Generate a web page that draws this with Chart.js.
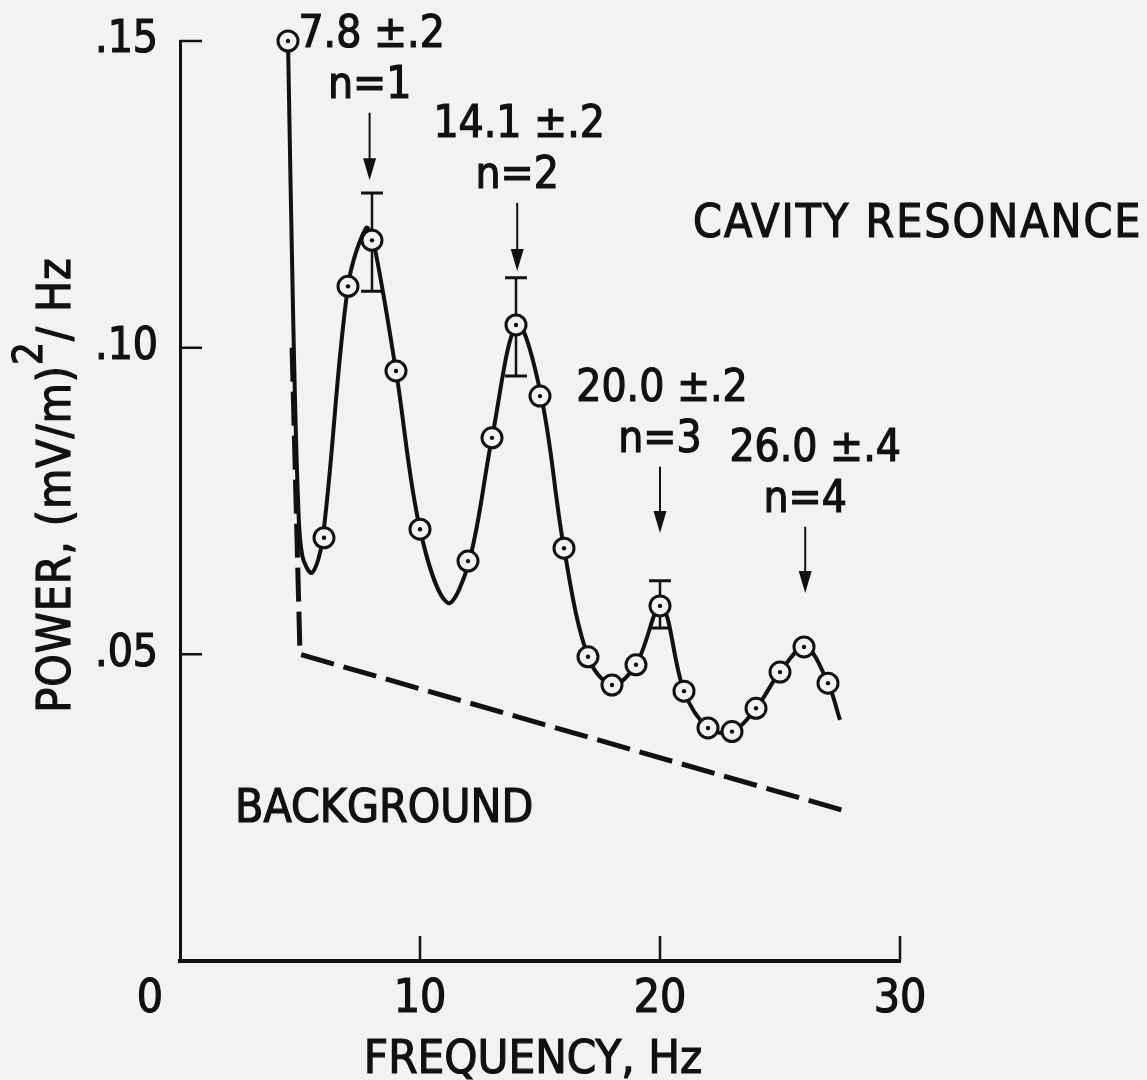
<!DOCTYPE html>
<html>
<head>
<meta charset="utf-8">
<script src="https://cdn.jsdelivr.net/npm/chart.js@4.4.1/dist/chart.umd.min.js"></script>
<style>
  html, body { margin: 0; padding: 0; background: #f2f2f2; }
  canvas { display: block; }
</style>
</head>
<body>
<canvas id="powerChart" width="1147" height="1080"></canvas>
<script>
/**
 * Power spectrum with cavity resonances (Schumann modes) over background.
 */

const FONT = '"DejaVu Sans Condensed", "DejaVu Sans", sans-serif';
const INK = "#111111";
const PAPER = "#f2f2f2";

// measured points (circles)
const frequency = [4.5, 6, 7, 8, 9, 10, 12, 13, 14, 15, 16, 17, 18, 19, 20, 21, 22, 23, 24, 25, 26, 27];
const power = [0.150, 0.069, 0.110, 0.1175, 0.0962, 0.0704, 0.0652, 0.0853, 0.1037, 0.0921, 0.0673, 0.0496,
  0.0450, 0.0483, 0.0579, 0.0440, 0.0380, 0.0374, 0.0412, 0.0471, 0.0512, 0.0453];

// hand-drawn smooth curve through the points
const curveFreq = [4.5, 4.72, 4.92, 5.1, 5.5, 5.95, 7.0, 7.75, 8.05, 9.0, 10.0, 11.15, 12.05, 13.0, 14.05,
  15.05, 16.0, 17.0, 18.0, 19.0, 20.05, 21.0, 22.0, 23.0, 24.0, 25.0, 26.05, 27.0, 27.5];
const curvePower = [0.150, 0.104, 0.075, 0.066, 0.0633, 0.069, 0.110, 0.1195, 0.1175, 0.0962, 0.0704, 0.0584,
  0.0652, 0.0853, 0.1037, 0.0921, 0.0673, 0.0496, 0.0450, 0.0483, 0.0579, 0.0440, 0.0380, 0.0374, 0.0412,
  0.0471, 0.0512, 0.0453, 0.0393];

// dashed background estimate
const backgroundFreq = [4.67, 5.0, 27.6];
const backgroundPower = [0.100, 0.050, 0.0246];

// error bars
const errorFreq = [8, 14, 20];
const errorHigh = [0.1252, 0.1114, 0.0620];
const errorLow = [0.1092, 0.0954, 0.0543];

// resonance annotations
const resonanceFreq = [7.9, 14.05, 20.0, 26.05];
const arrowFrom = [0.1383, 0.1236, 0.0806, 0.0708];
const arrowTo = [0.1273, 0.1125, 0.0698, 0.0600];
const resonanceLabels = ["7.8 \u00b1.2", "14.1 \u00b1.2", "20.0 \u00b1.2", "26.0 \u00b1.4"];
const modeLabels = ["n=1", "n=2", "n=3", "n=4"];

// axes
const xTicks = [0, 10, 20, 30];
const yTicks = [0, 0.05, 0.10, 0.15];

function toPoints(xs, ys) {
  return xs.map((x, i) => ({ x, y: ys[i] }));
}

function drawArrow(ctx, x, y1, y2) {
  const head = 22;
  ctx.beginPath();
  ctx.moveTo(x, y1);
  ctx.lineTo(x, y2 - head + 2);
  ctx.stroke();
  ctx.beginPath();
  ctx.moveTo(x, y2);
  ctx.lineTo(x - 6.5, y2 - head);
  ctx.lineTo(x + 6.5, y2 - head);
  ctx.closePath();
  ctx.fill();
}

// fill plus a thin outline, the lettering in the original is heavier than DejaVu regular
function inkText(ctx, text, x, y) {
  ctx.fillText(text, x, y);
  ctx.strokeText(text, x, y);
}

function drawPowerTitle(ctx) {
  const parts = [
    { text: "POWER, (mV/m)", font: `46px ${FONT}`, rise: 0 },
    { text: "2", font: `40px ${FONT}`, rise: -28 },
    { text: "/ Hz", font: `46px ${FONT}`, rise: 0 },
  ];
  let total = 0;
  parts.forEach((p) => {
    ctx.font = p.font;
    p.width = ctx.measureText(p.text).width;
    total += p.width;
  });
  ctx.save();
  ctx.translate(70, 488);
  ctx.rotate(-Math.PI / 2);
  ctx.textAlign = "left";
  ctx.textBaseline = "alphabetic";
  ctx.letterSpacing = "1px";
  let pos = -total / 2 - 6;
  parts.forEach((p) => {
    ctx.font = p.font;
    inkText(ctx, p.text, pos, p.rise);
    pos += p.width + p.text.length;
  });
  ctx.restore();
}

const errorBarPlugin = {
  id: "errorBars",
  beforeDatasetsDraw(chart) {
    const { ctx, scales: { x, y } } = chart;
    ctx.save();
    ctx.strokeStyle = INK;
    errorFreq.forEach((f, i) => {
      const px = x.getPixelForValue(f);
      const top = y.getPixelForValue(errorHigh[i]);
      const bottom = y.getPixelForValue(errorLow[i]);
      ctx.lineWidth = 2.5;
      ctx.beginPath();
      ctx.moveTo(px, top);
      ctx.lineTo(px, bottom);
      ctx.stroke();
      ctx.lineWidth = 3;
      ctx.beginPath();
      ctx.moveTo(px - 11, top);
      ctx.lineTo(px + 11, top);
      ctx.moveTo(px - 11, bottom);
      ctx.lineTo(px + 11, bottom);
      ctx.stroke();
    });
    ctx.restore();
  },
};

const decorationPlugin = {
  id: "decorations",
  afterDraw(chart) {
    const { ctx, chartArea, scales: { x, y } } = chart;
    ctx.save();
    ctx.strokeStyle = INK;
    ctx.fillStyle = INK;

    // inward tick marks
    ctx.lineWidth = 2.5;
    ctx.beginPath();
    yTicks.filter((v) => v > 0).forEach((v) => {
      const py = y.getPixelForValue(v);
      ctx.moveTo(chartArea.left, py);
      ctx.lineTo(chartArea.left + 22, py);
    });
    xTicks.filter((v) => v > 0).forEach((v) => {
      const px = x.getPixelForValue(v);
      ctx.moveTo(px, chartArea.bottom);
      ctx.lineTo(px, chartArea.bottom - 25);
    });
    ctx.stroke();

    // origin label sits left of the corner
    ctx.lineWidth = 1.2;
    ctx.font = `46px ${FONT}`;
    ctx.textAlign = "center";
    ctx.textBaseline = "middle";
    inkText(ctx, "0", x.getPixelForValue(0) - 30, 1000);

    // axis title
    ctx.font = `47px ${FONT}`;
    ctx.textBaseline = "alphabetic";
    inkText(ctx, "FREQUENCY, Hz", (chartArea.left + chartArea.right) / 2 - 7, 1073);

    // resonance arrows and labels
    resonanceFreq.forEach((f, i) => {
      const px = x.getPixelForValue(f);
      const y1 = y.getPixelForValue(arrowFrom[i]);
      const y2 = y.getPixelForValue(arrowTo[i]);
      ctx.lineWidth = 2;
      drawArrow(ctx, px, y1, y2);
      ctx.lineWidth = 1.2;
      ctx.textAlign = "center";
      ctx.textBaseline = "alphabetic";
      ctx.font = `44px ${FONT}`;
      inkText(ctx, modeLabels[i], px, y1 - 15);
      inkText(ctx, resonanceLabels[i], px + (i === 3 ? 10 : 2), y1 - 66);
    });

    ctx.font = `46px ${FONT}`;
    ctx.textAlign = "left";
    ctx.letterSpacing = "2px";
    inkText(ctx, "CAVITY RESONANCE", 693, 237);
    ctx.letterSpacing = "0px";
    inkText(ctx, "BACKGROUND", 235, 822);

    drawPowerTitle(ctx);
    ctx.restore();
  },
};

const ctx = document.getElementById("powerChart");
new Chart(ctx, {
  type: "scatter",
  data: {
    datasets: [
      {
        label: "background",
        data: toPoints(backgroundFreq, backgroundPower),
        showLine: true,
        borderColor: INK,
        borderWidth: 5,
        borderDash: [34, 10],
        pointRadius: 0,
        tension: 0,
        clip: false,
        order: 4,
      },
      {
        label: "curve",
        data: toPoints(curveFreq, curvePower),
        showLine: true,
        borderColor: INK,
        borderWidth: 4,
        pointRadius: 0,
        tension: 0.35,
        clip: false,
        order: 3,
      },
      {
        label: "power",
        data: toPoints(frequency, power),
        showLine: false,
        pointRadius: 10,
        pointBorderWidth: 3,
        pointBorderColor: INK,
        pointBackgroundColor: PAPER,
        clip: false,
        order: 2,
      },
      {
        label: "centres",
        data: toPoints(frequency, power),
        showLine: false,
        pointRadius: 2.2,
        pointBorderWidth: 0,
        pointBackgroundColor: INK,
        clip: false,
        order: 1,
      },
    ],
  },
  options: {
    responsive: false,
    animation: false,
    layout: { padding: { top: 41, right: 247, left: 0, bottom: 0 } },
    plugins: { legend: { display: false }, tooltip: { enabled: false } },
    scales: {
      x: {
        type: "linear",
        min: 0,
        max: 30,
        afterFit: (scale) => { scale.height = 119; },
        afterBuildTicks: (scale) => { scale.ticks = xTicks.map((value) => ({ value })); },
        ticks: {
          color: INK,
          padding: 11,
          maxRotation: 0,
          textStrokeColor: INK,
          textStrokeWidth: 1.2,
          font: { family: FONT, size: 46 },
          callback: (v) => (v === 0 ? "" : String(v)),
        },
        grid: { display: false, drawTicks: false },
        border: { display: true, width: 4, color: INK },
      },
      y: {
        min: 0,
        max: 0.15,
        afterFit: (scale) => {
          scale.width = 180;
          scale.paddingTop = 0;
          scale.paddingBottom = 0;
        },
        afterBuildTicks: (scale) => { scale.ticks = yTicks.map((value) => ({ value })); },
        ticks: {
          color: INK,
          padding: 22,
          textStrokeColor: INK,
          textStrokeWidth: 1.2,
          font: { family: FONT, size: 44 },
          callback: (v) => (v === 0 ? "" : v.toFixed(2).replace(/^0/, "")),
        },
        grid: { display: false, drawTicks: false },
        border: { display: true, width: 3, color: INK },
      },
    },
  },
  plugins: [errorBarPlugin, decorationPlugin],
});
</script>
</body>
</html>
